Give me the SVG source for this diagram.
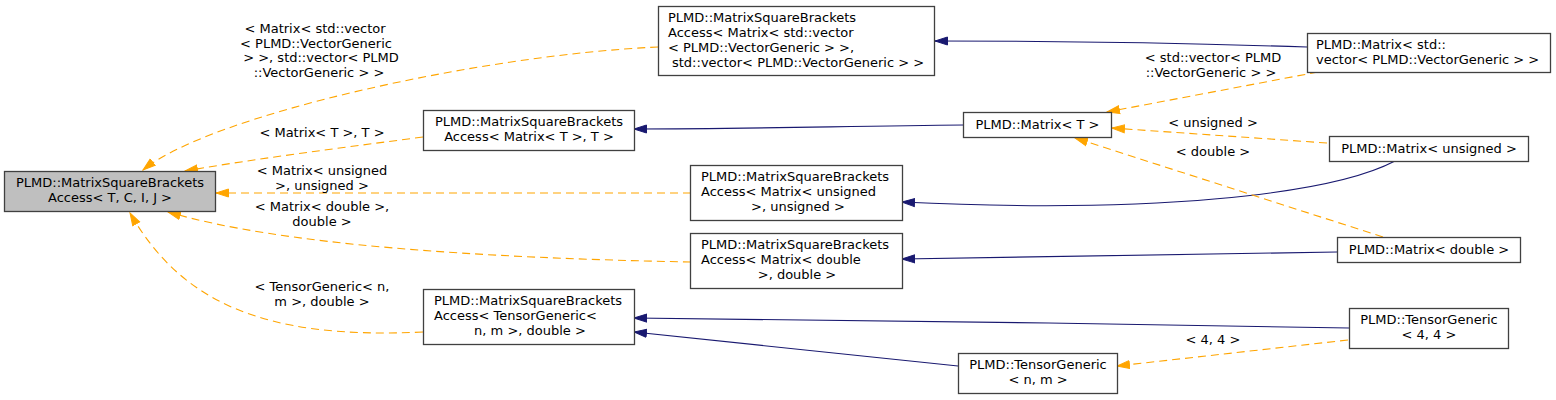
<svg xmlns="http://www.w3.org/2000/svg" width="1556" height="400" viewBox="0 0 1556 400">
<defs>
<style>
text{font-family:"DejaVu Sans","Liberation Sans",sans-serif;font-size:13px;fill:#000}
.c{text-anchor:middle}
.box{fill:#fff;stroke:#404040;stroke-width:1.3}
.root{fill:#bfbfbf;stroke:#404040;stroke-width:1.3}
.inh{fill:none;stroke:#191970;stroke-width:1.1}
.tpl{fill:none;stroke:#ffa500;stroke-width:1.1;stroke-dasharray:8,5}
</style>
<marker id="ab" markerUnits="userSpaceOnUse" markerWidth="14" markerHeight="10" refX="13" refY="4.5" orient="auto" viewBox="0 0 14 9">
<path d="M0.5,0.5 L13,4.5 L0.5,8.5 z" fill="#191970" stroke="#191970"/>
</marker>
<marker id="ao" markerUnits="userSpaceOnUse" markerWidth="14" markerHeight="10" refX="13" refY="4.5" orient="auto" viewBox="0 0 14 9">
<path d="M0.5,0.5 L13,4.5 L0.5,8.5 z" fill="#ffa500" stroke="#ffa500"/>
</marker>
</defs>
<rect width="1556" height="400" fill="#fff"/>

<g id="connectors">
<path class="inh" marker-end="url(#ab)" d="M1307,47 C1180,43 1060,41 935,41"/>
<path class="inh" marker-end="url(#ab)" d="M964,125 C850,126 750,129 634,129"/>
<path class="inh" marker-end="url(#ab)" d="M1395,161 C1330,195 1150,214 902,202"/>
<path class="inh" marker-end="url(#ab)" d="M1337,252 C1150,255 1000,258 902,259"/>
<path class="inh" marker-end="url(#ab)" d="M1349,328 C1100,324 900,320 634,318"/>
<path class="inh" marker-end="url(#ab)" d="M958,366 L634,332"/>

<path class="tpl" marker-end="url(#ao)" d="M658,47 C480,55 210,115 143,170"/>
<path class="tpl" marker-end="url(#ao)" d="M423,137 C340,148 260,158 185,171"/>
<path class="tpl" marker-end="url(#ao)" d="M691,193 L216,193"/>
<path class="tpl" marker-end="url(#ao)" d="M691,262 C480,258 280,245 168,212"/>
<path class="tpl" marker-end="url(#ao)" d="M423,332 C260,340 180,300 130,213"/>
<path class="tpl" marker-end="url(#ao)" d="M1318,72 L1107,112"/>
<path class="tpl" marker-end="url(#ao)" d="M1327,143 L1112,128"/>
<path class="tpl" marker-end="url(#ao)" d="M1383,237 L1075,138"/>
<path class="tpl" marker-end="url(#ao)" d="M1348,340 L1117,366"/>

<text x="315" y="33" class="c">&lt; Matrix&lt; std::vector</text>
<text x="316" y="47.7" class="c">&lt; PLMD::VectorGeneric</text>
<text x="321" y="62.4" class="c">&gt; &gt;, std::vector&lt; PLMD</text>
<text x="319" y="77" class="c">::VectorGeneric &gt; &gt;</text>
<text x="322" y="137" class="c">&lt; Matrix&lt; T &gt;, T &gt;</text>
<text x="322" y="175" class="c">&lt; Matrix&lt; unsigned</text>
<text x="322" y="190" class="c">&gt;, unsigned &gt;</text>
<text x="322" y="211" class="c">&lt; Matrix&lt; double &gt;,</text>
<text x="322" y="226" class="c">double &gt;</text>
<text x="322" y="291" class="c">&lt; TensorGeneric&lt; n,</text>
<text x="322" y="306" class="c">m &gt;, double &gt;</text>
<text x="1213" y="62" class="c">&lt; std::vector&lt; PLMD</text>
<text x="1211" y="77" class="c">::VectorGeneric &gt; &gt;</text>
<text x="1213" y="127" class="c">&lt; unsigned &gt;</text>
<text x="1213" y="156" class="c">&lt; double &gt;</text>
<text x="1213" y="344" class="c">&lt; 4, 4 &gt;</text>
</g>

<g id="root">
<rect class="root" x="4.5" y="171.5" width="211" height="40"/>
<text x="110" y="187" class="c">PLMD::MatrixSquareBrackets</text>
<text x="110" y="202" class="c">Access&lt; T, C, I, J &gt;</text>
</g>

<g id="msba_vec">
<rect class="box" x="658.5" y="6.5" width="276" height="69"/>
<text x="668" y="22">PLMD::MatrixSquareBrackets</text>
<text x="668" y="37">Access&lt; Matrix&lt; std::vector</text>
<text x="668" y="52">&lt; PLMD::VectorGeneric &gt; &gt;,</text>
<text x="672" y="67">std::vector&lt; PLMD::VectorGeneric &gt; &gt;</text>
</g>

<g id="msba_T">
<rect class="box" x="423.5" y="110.5" width="211" height="40"/>
<text x="529" y="126" class="c">PLMD::MatrixSquareBrackets</text>
<text x="529" y="141" class="c">Access&lt; Matrix&lt; T &gt;, T &gt;</text>
</g>

<g id="msba_unsigned">
<rect class="box" x="690.5" y="165.5" width="212" height="55"/>
<text x="701" y="181">PLMD::MatrixSquareBrackets</text>
<text x="701" y="196">Access&lt; Matrix&lt; unsigned</text>
<text x="798" y="211" class="c">&gt;, unsigned &gt;</text>
</g>

<g id="msba_double">
<rect class="box" x="690.5" y="233.5" width="212" height="55"/>
<text x="701" y="249">PLMD::MatrixSquareBrackets</text>
<text x="701" y="264">Access&lt; Matrix&lt; double</text>
<text x="797" y="279" class="c">&gt;, double &gt;</text>
</g>

<g id="msba_tensor">
<rect class="box" x="423.5" y="289.5" width="211" height="55"/>
<text x="434" y="305">PLMD::MatrixSquareBrackets</text>
<text x="434" y="320">Access&lt; TensorGeneric&lt;</text>
<text x="530" y="335" class="c">n, m &gt;, double &gt;</text>
</g>

<g id="matrix_T">
<rect class="box" x="963.5" y="112.5" width="148" height="25"/>
<text x="1037.5" y="129" class="c">PLMD::Matrix&lt; T &gt;</text>
</g>

<g id="matrix_vec">
<rect class="box" x="1307.5" y="33.5" width="243" height="39"/>
<text x="1316" y="49">PLMD::Matrix&lt; std::</text>
<text x="1316" y="64">vector&lt; PLMD::VectorGeneric &gt; &gt;</text>
</g>

<g id="matrix_unsigned">
<rect class="box" x="1329.5" y="136.5" width="199" height="25"/>
<text x="1429" y="153" class="c">PLMD::Matrix&lt; unsigned &gt;</text>
</g>

<g id="matrix_double">
<rect class="box" x="1337.5" y="237.5" width="183" height="25"/>
<text x="1429" y="254" class="c">PLMD::Matrix&lt; double &gt;</text>
</g>

<g id="tensor_44">
<rect class="box" x="1349.5" y="308.5" width="159" height="40"/>
<text x="1429" y="324" class="c">PLMD::TensorGeneric</text>
<text x="1429" y="339" class="c">&lt; 4, 4 &gt;</text>
</g>

<g id="tensor_nm">
<rect class="box" x="958.5" y="353.5" width="159" height="40"/>
<text x="1038" y="369" class="c">PLMD::TensorGeneric</text>
<text x="1038" y="384" class="c">&lt; n, m &gt;</text>
</g>
</svg>
